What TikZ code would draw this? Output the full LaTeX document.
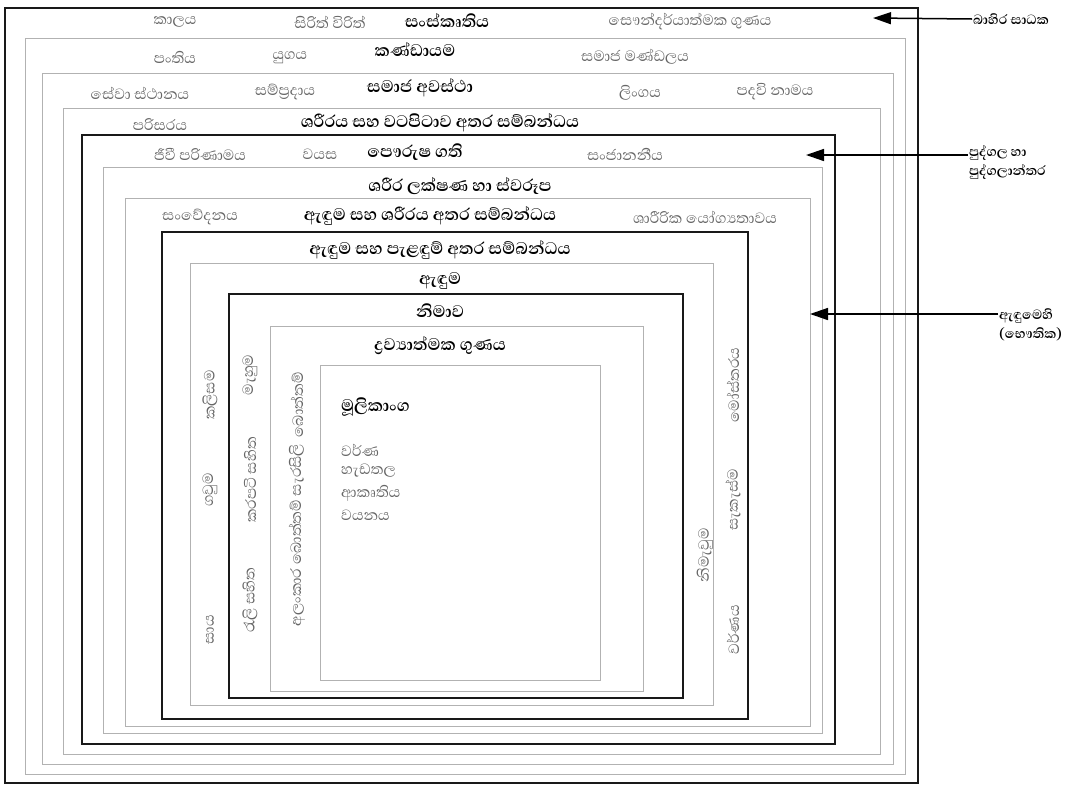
\documentclass[tikz,border=0pt]{standalone}
\usepackage{fontspec}
\newfontfamily\sinhalafont[Script=Sinhala]{Abhaya Libre}
\usetikzlibrary{arrows.meta, positioning}

\begin{document}
\begin{tikzpicture}[x=1pt,y=-1pt,
            font=\sinhalafont\fontsize{19}{21}\selectfont,
            heavybox/.style={draw=black!90,line width=2.6pt},
            lightbox/.style={draw=black!30,line width=0.8pt},
            item/.style={text=black!60,inner sep=1pt},
            head/.style={text=black,font=\sinhalafont\bfseries\fontsize{21.5}{23}\selectfont,inner sep=1pt},
            side/.style={font=\sinhalafont\bfseries\fontsize{17}{19}\selectfont,align=left,inner sep=1pt},
            pointer/.style={line width=1.5pt,-{Triangle[length=18pt,width=12pt]}}]

            \useasboundingbox (0,0) rectangle (1075,785);

            % External factors (outer frames)
            \draw[heavybox,line width=2pt] (5,8) rectangle (918,783);
            \draw[lightbox] (25,38) rectangle (905,774);
            \draw[lightbox] (42,73) rectangle (893,764);
            \draw[lightbox] (63,108) rectangle (880,754);

            \node[item] (time) at (175,22) {කාලය};
            \node[item] (custom) at (330,22) {සිරිත් විරිත්};
            \node[head] (culture) at (447,21) {සංස්කෘතිය};
            \node[item] (aesth) at (690,22) {සෞන්දර්යාත්මක ගුණය};

            \node[item] (klass) at (175,57) {පංතිය};
            \node[item] (era) at (290,58) {යුගය};
            \node[head] (group) at (415,50) {කණ්ඩායම};
            \node[item] (circle) at (635,57) {සමාජ මණ්ඩලය};

            \node[item] (work) at (140,93) {සේවා ස්ථානය};
            \node[item] (tradition) at (285,92) {සම්ප්‍රදාය};
            \node[head] (occasion) at (420,88) {සමාජ අවස්ථා};
            \node[item] (gender) at (640,93) {ලිංගය};
            \node[item] (title) at (775,92) {පදවි නාමය};

            \node[item] (envir) at (160,125) {පරිසරය};
            \node[head] (bodyenv) at (440,123) {ශරීරය සහ වටපිටාව අතර සම්බන්ධය};

            % Individual and interpersonal
            \draw[heavybox] (82,135) rectangle (835,744);
            \draw[lightbox] (103,167) rectangle (822,733);
            \draw[lightbox] (125,198) rectangle (810,726);

            \node[item] (growth) at (200,154) {ජීවී පරිණාමය};
            \node[item] (age) at (320,154) {වයස};
            \node[head] (person) at (415,152) {පෞරුෂ ගති};
            \node[item] (cognit) at (625,154) {සංජානනීය};

            \node[head] (bodyform) at (460,186) {ශරීර ලක්ෂණ හා ස්වරූප};

            \node[item] (sense) at (200,217) {සංවේදනය};
            \node[head] (dressbody) at (430,216) {ඇඳුම සහ ශරීරය අතර සම්බන්ධය};
            \node[item] (fitness) at (705,217) {ශාරීරික යෝග්‍යතාවය};

            % Clothing
            \draw[heavybox] (162,232) rectangle (748,719);
            \draw[lightbox] (190,263) rectangle (713,705);

            \node[head] (dressorn) at (440,250) {ඇඳුම සහ පැළඳුම් අතර සම්බන්ධය};
            \node[head] (dress) at (440,281) {ඇඳුම};

            \node[item,rotate=90] (trousers) at (210,395) {කලිසම};
            \node[item,rotate=90] (frock) at (210,490) {ගවුම};
            \node[item,rotate=90] (skirt) at (210,630) {සාය};

            \node[item,rotate=90] (design) at (733,385) {මෝස්තරය};
            \node[item,rotate=90] (layout) at (733,500) {සැකැස්ම};
            \node[item,rotate=90] (colour) at (733,630) {වර්ණය};

            % Finish
            \draw[heavybox] (229,294) rectangle (683,698);
            \draw[lightbox] (270,326) rectangle (643,691);
            \draw[lightbox] (320,365) rectangle (600,680);

            \node[head] (finish) at (440,311) {නිමාව};
            \node[head] (material) at (440,346) {ද්‍රව්‍යාත්මක ගුණය};

            \node[item,rotate=90] (seam) at (250,375) {මැහුම};
            \node[item,rotate=90] (collar) at (250,480) {කරපටි සහිත};
            \node[item,rotate=90] (frill) at (250,600) {රැලි සහිත};

            \node[item,rotate=90] (button) at (297,405) {බොත්තම්};
            \node[item,rotate=90] (trim) at (297,535) {අලංකාර බොත්තම් සැරසිලි};

            \node[item,rotate=90] (make) at (705,555) {නිමැවුම};

            % Basic elements
            \node[head,anchor=west] (basic) at (340,407) {මූලිකාංග};
            \node[item,anchor=west] (hue) at (340,450) {වර්ණ};
            \node[item,anchor=west] (shape) at (340,471) {හැඩතල};
            \node[item,anchor=west] (form) at (340,493) {ආකෘතිය};
            \node[item,anchor=west] (texture) at (340,515) {වයනය};

            % Side labels with pointers
            \node[side,anchor=west] (outer) at (972,19) {බාහිර සාධක};
            \coordinate (outertip) at (873,18);
            \draw[pointer] (outer.west) -- (outertip);

            \node[side,anchor=west] (indiv) at (968,162) {පුද්ගල හා\\පුද්ගලාන්තර};
            \coordinate (indivtip) at (806,155);
            \draw[pointer] (indiv.west |- indivtip) -- (indivtip);

            \node[side,anchor=west] (phys) at (998,325) {ඇඳුමෙහි\\(භෞතික)};
            \coordinate (phystip) at (810,314);
            \draw[pointer] (phys.west |- phystip) -- (phystip);
        \end{tikzpicture}
\end{document}
